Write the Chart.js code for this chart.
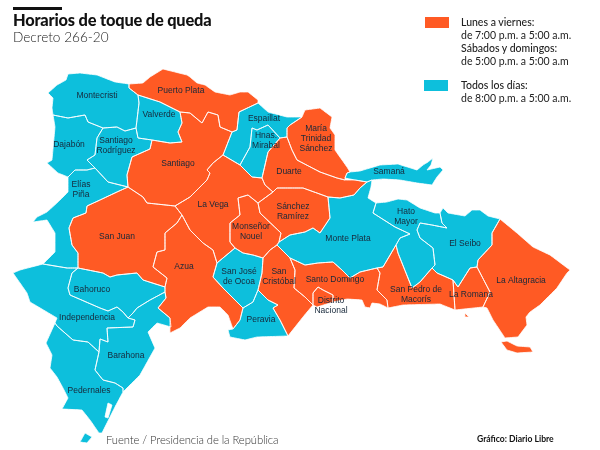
<!DOCTYPE html>
<html>
<head>
<meta charset="utf-8">
<title>Horarios de toque de queda</title>
<script src="https://cdn.jsdelivr.net/npm/chart.js@4"></script>
<style>
  body { margin: 0; background: #fff; font-family: Lato, sans-serif; color: #222; }
  #wrap { position: relative; width: 600px; height: 450px; overflow: hidden; }
  #wrap div { position: absolute; white-space: nowrap; }
  #bar { left: 13px; top: 7px; width: 49px; height: 3px; background: #111; }
  #title { left: 13px; top: 10px; font-size: 16.4px; font-weight: 900; color: #111; letter-spacing: -0.2px; }
  #subtitle { left: 13px; top: 29px; font-size: 13.6px; font-weight: 300; color: #222; }
  .swatch { width: 24px; height: 11px; }
  .legend { left: 461px; font-size: 10.5px; line-height: 13px; color: #222; }
  #source { left: 106px; top: 433px; font-size: 11.3px; font-weight: 300; color: #333; letter-spacing: -0.1px; }
  #credit { left: 477px; top: 434px; font-size: 8.6px; font-weight: 700; color: #111; }
</style>
</head>
<body>
<div id="wrap">
  <canvas id="map" width="600" height="450"></canvas>
  <div id="bar"></div>
  <div id="title">Horarios de toque de queda</div>
  <div id="subtitle">Decreto 266-20</div>
  <div class="swatch" style="left:425px;top:17px;background:#ff5a24"></div>
  <div class="legend" style="top:16px"><span style="font-weight:500">Lunes a viernes:</span><br>de 7:00 p.m. a 5:00 a.m.<br><span style="font-weight:500">Sábados y domingos:</span><br>de 5:00 p.m. a 5:00 a.m</div>
  <div class="swatch" style="left:424px;top:80px;background:#0dbfdc"></div>
  <div class="legend" style="top:79px"><span style="font-weight:500">Todos los días:</span><br>de 8:00 p.m. a 5:00 a.m.</div>
  <div id="source">Fuente / Presidencia de la República</div>
  <div id="credit">Gráfico: Diario Libre</div>
</div>

<script>
// province outlines
const montecristi = [[53,115],[52,108],[53,98],[48,93],[57,85],[66,80],[68,74],[80,73],[97,75],[115,82],[129,84],[129,88],[138,95],[139,103],[137,120],[136,128],[125,131],[117,127],[103,128],[88,122],[85,115],[68,118]];
const puertoPlata = [[129,84],[143,83],[150,77],[163,69],[175,72],[187,75],[190,77],[197,83],[205,85],[215,92],[230,95],[240,92],[248,92],[258,100],[258,103],[239,112],[237,130],[232,132],[220,127],[218,115],[208,112],[202,123],[190,113],[180,112],[160,102],[138,95],[129,88]];
const valverde = [[138,95],[160,102],[180,112],[182,123],[178,132],[182,142],[170,143],[152,140],[138,138],[136,128],[137,120],[139,103]];
const santiagoRodriguez = [[103,128],[117,127],[125,131],[136,128],[138,138],[152,140],[150,149],[132,157],[127,175],[128,187],[108,182],[95,168],[87,160],[95,155],[97,138]];
const dajabon = [[53,115],[68,118],[85,115],[88,122],[103,128],[97,138],[95,155],[87,160],[95,168],[87,170],[75,170],[68,177],[58,173],[47,163],[52,160],[55,127]];
const eliasPina = [[68,177],[75,170],[87,170],[95,168],[108,182],[128,187],[117,192],[100,200],[87,206],[86,213],[73,218],[69,228],[72,245],[78,253],[78,268],[67,268],[43,264],[55,252],[55,233],[47,220],[33,222],[37,217],[47,212],[58,202],[68,192]];
const santiago = [[152,140],[170,143],[182,142],[178,132],[182,123],[180,112],[190,113],[202,123],[208,112],[218,115],[220,127],[232,132],[225,150],[223,155],[213,163],[207,170],[210,173],[207,180],[190,197],[175,206],[147,203],[143,197],[128,187],[127,175],[132,157],[150,149]];
const sanJuan = [[128,187],[143,197],[147,203],[175,206],[182,215],[177,223],[165,233],[165,250],[157,252],[153,267],[167,278],[165,287],[143,280],[137,273],[117,275],[110,277],[103,273],[78,268],[78,253],[72,245],[69,228],[73,218],[86,213],[87,206],[100,200],[117,192]];
const laVega = [[175,206],[190,197],[207,180],[210,173],[207,170],[213,163],[223,155],[240,165],[252,177],[262,178],[265,185],[273,192],[258,203],[248,195],[238,198],[240,215],[230,223],[230,242],[235,248],[217,263],[213,250],[203,243],[190,230],[182,215]];
const monsenorNouel = [[238,198],[248,195],[258,203],[260,213],[281,233],[279,242],[277,245],[270,250],[263,258],[253,255],[243,253],[235,248],[230,242],[230,223],[240,215]];
const azua = [[165,287],[167,278],[153,267],[157,252],[165,250],[165,233],[177,223],[182,215],[190,230],[203,243],[213,250],[217,263],[213,277],[223,288],[243,308],[240,320],[233,329],[228,315],[220,307],[208,307],[190,318],[180,328],[170,333],[170,318],[158,308],[166,298],[165,292]];
const sanJoseOcoa = [[217,263],[235,248],[243,253],[253,255],[263,258],[262,273],[258,290],[253,302],[243,308],[223,288],[213,277]];
const peravia = [[258,290],[268,300],[278,305],[273,308],[280,320],[288,336],[257,337],[245,340],[230,337],[228,330],[233,329],[240,320],[243,308],[253,302]];
const sanCristobal = [[263,258],[270,250],[277,245],[290,258],[295,270],[294,288],[305,297],[313,305],[303,317],[288,336],[280,320],[273,308],[278,305],[268,300],[258,290],[262,273]];
const sanchezRamirez = [[273,192],[277,188],[303,188],[328,197],[330,218],[320,233],[313,228],[305,232],[290,235],[279,242],[281,233],[260,213],[258,203]];
const santoDomingo = [[290,258],[305,265],[318,263],[333,262],[342,270],[350,278],[360,272],[377,268],[380,273],[377,290],[387,300],[388,308],[380,304],[372,303],[370,308],[365,307],[362,300],[347,299],[333,302],[333,295],[323,290],[318,287],[313,293],[313,305],[305,297],[294,288],[295,270]];
const distritoNacional = [[313,293],[318,287],[323,290],[333,295],[333,302],[330,303],[317,307],[313,305]];
const montePlata = [[279,242],[290,235],[305,232],[313,228],[320,233],[330,218],[328,197],[340,198],[354,195],[360,188],[367,182],[372,180],[371,187],[368,198],[376,203],[373,213],[395,227],[410,234],[400,238],[396,245],[383,267],[377,268],[360,272],[350,278],[342,270],[333,262],[318,263],[305,265],[290,258],[277,245]];
const samana = [[350,172],[347,173],[345,178],[355,180],[367,182],[372,180],[383,179],[400,180],[417,183],[432,185],[437,177],[443,170],[440,167],[427,170],[431,165],[433,158],[428,162],[423,165],[417,170],[398,164],[380,165],[360,171]];
const hatoMayor = [[376,203],[387,202],[398,199],[407,200],[420,208],[435,213],[440,213],[442,223],[447,228],[432,225],[420,223],[417,230],[420,238],[433,248],[435,265],[432,268],[420,282],[412,288],[398,253],[396,245],[400,238],[410,234],[395,227],[373,213]];
const elSeibo = [[440,213],[443,208],[448,213],[465,216],[472,210],[480,210],[488,216],[500,219],[492,233],[492,245],[478,260],[477,267],[470,268],[458,287],[453,280],[437,273],[432,268],[435,265],[433,248],[420,238],[417,230],[420,223],[432,225],[447,228],[442,223]];
const laAltagracia = [[500,219],[517,233],[533,247],[550,255],[570,270],[567,273],[557,288],[540,305],[530,312],[526,317],[527,325],[518,337],[505,338],[493,320],[487,308],[483,307],[490,292],[477,267],[478,260],[492,245],[492,233]];
const saona = [[501,342],[507,341],[517,346],[530,347],[533,352],[517,353],[507,350]];
const catalina = [[465,313],[469,317],[465,317]];
const laRomana = [[453,280],[458,287],[470,268],[477,267],[490,292],[483,307],[455,310]];
const sanPedro = [[377,268],[383,267],[396,245],[398,253],[412,288],[420,282],[432,268],[437,273],[453,280],[455,310],[440,304],[403,305],[388,308],[387,300],[377,290],[380,273]];
const duarte = [[287,137],[292,150],[297,160],[320,172],[337,178],[345,180],[355,180],[367,182],[360,188],[354,195],[340,198],[328,197],[303,188],[277,188],[273,192],[265,185],[262,178],[268,152],[280,138]];
const mariaTrinidad = [[287,137],[287,128],[290,125],[302,117],[305,110],[320,108],[332,117],[330,128],[335,135],[335,150],[347,167],[350,172],[347,173],[345,178],[345,180],[337,178],[320,172],[297,160],[292,150]];
const espaillat = [[239,112],[258,103],[268,112],[287,117],[302,117],[290,125],[287,128],[287,137],[280,138],[268,125],[257,130],[252,128],[250,147],[240,165],[223,155],[225,150],[232,132],[237,130]];
const hermanasMirabal = [[252,128],[257,130],[268,125],[280,138],[268,152],[262,178],[252,177],[240,165],[250,147]];
const independencia = [[13,273],[20,270],[43,264],[67,268],[78,268],[72,273],[68,288],[70,295],[100,308],[108,311],[117,307],[123,312],[128,318],[135,320],[133,327],[107,328],[108,342],[100,339],[99,352],[88,342],[73,340],[57,326],[55,323],[57,318],[30,302],[27,293]];
const bahoruco = [[78,268],[103,273],[110,277],[117,275],[137,273],[143,280],[165,287],[165,292],[150,300],[137,308],[133,313],[128,318],[123,312],[117,307],[108,311],[100,308],[70,295],[68,288],[72,273]];
const barahona = [[107,328],[133,327],[135,320],[128,318],[133,313],[137,308],[150,300],[165,292],[166,298],[158,308],[170,318],[171,327],[157,323],[148,332],[155,348],[140,375],[123,392],[123,388],[115,383],[103,380],[95,370],[99,352],[100,339],[108,342]];
const pedernales = [[57,326],[73,340],[88,342],[99,352],[95,370],[103,380],[115,383],[123,388],[123,392],[115,407],[102,433],[99,433],[90,420],[82,410],[62,409],[68,398],[63,388],[57,377],[50,368],[52,355],[46,343],[55,323]];
const beata = [[80,442],[85,433],[92,437],[87,443]];
const lagunaOviedo = [[108,403],[112,405],[108,418],[105,417]];

const orangeProvinces = [puertoPlata, santiago, sanJuan, laVega, monsenorNouel, azua, sanCristobal, sanchezRamirez, santoDomingo, distritoNacional, laAltagracia, saona, catalina, laRomana, sanPedro, duarte, mariaTrinidad];
const blueProvinces = [montecristi, valverde, santiagoRodriguez, dajabon, eliasPina, sanJoseOcoa, peravia, montePlata, samana, hatoMayor, elSeibo, espaillat, hermanasMirabal, independencia, bahoruco, barahona, pedernales, beata];

const labelNames = ['Montecristi','Puerto Plata','Valverde','Espaillat','Hnas.\nMirabal','María\nTrinidad\nSánchez','Dajabón','Santiago\nRodríguez','Santiago','Elías\nPiña','Duarte','Samaná','Hato\nMayor','La Vega','Sánchez\nRamírez','Monseñor\nNouel','San Juan','Monte Plata','El Seibo','Azua','San José\nde Ocoa','San\nCristóbal','Santo Domingo','San Pedro de\nMacorís','La Romana','La Altagracia','Distrito\nNacional','Bahoruco','Independencia','Barahona','Pedernales','Peravia'];
const labelX = [97,181,159,264,266,316,69,116,178,81,289,389,406,213,293,251,117,348,465,184,239,279,335,416,471,521,331,92,87,126,89,261];
const labelY = [96,91,115,119,141,139,145,146,164,190,172,172,217,205,212,232,237,239,244,267,277,277,280,295,295,281,306,290,318,356,391,320];

const ORANGE = '#ff5a24';
const BLUE = '#0dbfdc';

function toDataset(ring, color) {
    const closed = ring.concat([ring[0]]);
    return {
        data: closed.map(p => ({ x: p[0], y: p[1] })),
        showLine: true,
        fill: 'shape',
        // a tiny tension keeps Chart.js off its fast path, which merges points sharing an x
        tension: 0.001,
        pointRadius: 0,
        borderWidth: 0.8,
        borderJoinStyle: 'round',
        borderColor: '#fff',
        backgroundColor: color
    };
}

// province names sit on the map, placed through the same scales
const provinceLabels = {
    id: 'provinceLabels',
    afterDatasetsDraw(chart) {
        const { ctx, scales } = chart;
        ctx.save();
        ctx.font = '8.5px "Liberation Sans", sans-serif';
        ctx.fillStyle = '#17283a';
        ctx.textAlign = 'center';
        ctx.textBaseline = 'middle';
        labelNames.forEach((name, i) => {
            const lines = name.split('\n');
            lines.forEach((line, n) => {
                const y = labelY[i] + (n - (lines.length - 1) / 2) * 10;
                ctx.fillText(line, scales.x.getPixelForValue(labelX[i]), scales.y.getPixelForValue(y));
            });
        });
        ctx.restore();
    }
};

new Chart(document.getElementById('map'), {
    type: 'scatter',
    data: {
        datasets: [toDataset(lagunaOviedo, '#fff')]
            .concat(orangeProvinces.map(r => toDataset(r, ORANGE)))
            .concat(blueProvinces.map(r => toDataset(r, BLUE)))
    },
    options: {
        responsive: false,
        animation: false,
        layout: { padding: 0 },
        plugins: {
            legend: { display: false },
            tooltip: { enabled: false },
            filler: { drawTime: 'beforeDatasetsDraw' }
        },
        scales: {
            x: { type: 'linear', display: false, min: 0, max: 600 },
            y: { type: 'linear', display: false, min: 0, max: 450, reverse: true }
        }
    },
    plugins: [provinceLabels]
});
</script>
</body>
</html>
